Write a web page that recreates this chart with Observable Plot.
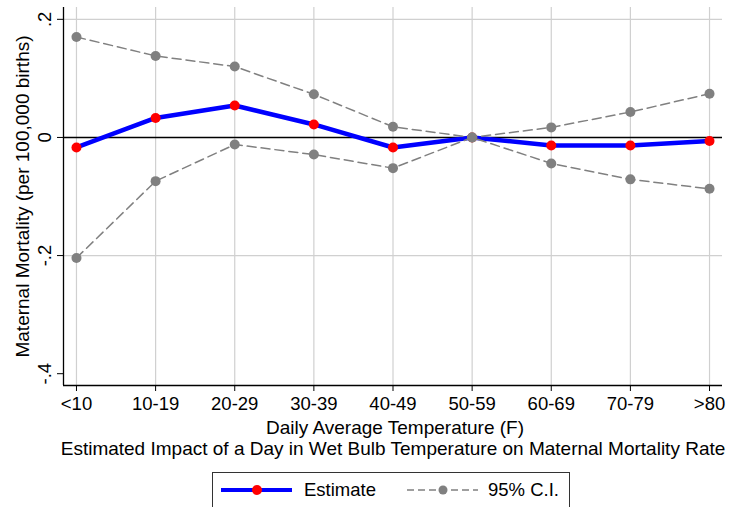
<!DOCTYPE html>
<html>
<head>
<meta charset="utf-8">
<script src="https://cdn.jsdelivr.net/npm/d3@7"></script>
<script src="https://cdn.jsdelivr.net/npm/@observablehq/plot@0.6"></script>
<style>
  body { margin: 0; background: #fff; font-family: "Liberation Sans", Arial, sans-serif; }
  #wrap { position: relative; width: 729px; height: 507px; overflow: hidden; background: #fff; }
  #chart svg { display: block; }
  .txt { position: absolute; font-size: 18.5px; line-height: 20px; color: #000; white-space: nowrap; }
  #caption { left: 393px; top: 439px; transform: translateX(-50%); font-size: 19px; }
  #legend { position: absolute; left: 212px; top: 472px; width: 358px; height: 40px; border: 1px solid #333; box-sizing: border-box; }
  .sw { position: absolute; top: 484px; }
</style>
</head>
<body>
<div id="wrap">
  <div id="chart"></div>
  <div id="caption" class="txt"></div>
  <div id="legend"></div>
  <svg class="sw" id="sw1" style="left:221px" width="72" height="12"></svg>
  <div class="txt" id="lg1" style="left:304px; top:480px"></div>
  <svg class="sw" id="sw2" style="left:407px" width="72" height="12"></svg>
  <div class="txt" id="lg2" style="left:488px; top:480px"></div>
</div>
<script>
// ---- data ----
const categories = ["<10", "10-19", "20-29", "30-39", "40-49", "50-59", "60-69", "70-79", ">80"];
const estimate   = [-0.017, 0.033, 0.054, 0.022, -0.017, 0, -0.0135, -0.0135, -0.006];
const ciUpper    = [0.170, 0.138, 0.120, 0.073, 0.018, 0, 0.017, 0.043, 0.074];
const ciLower    = [-0.204, -0.074, -0.012, -0.029, -0.052, 0, -0.044, -0.071, -0.087];
const yTicks      = [-0.4, -0.2, 0, 0.2];
const yTickLabels = ["-.4", "-.2", "0", ".2"];
const yGridValues = [-0.2, 0.2];
const yTitle = "Maternal Mortality (per 100,000 births)";
const xTitle = "Daily Average Temperature (F)";
const captionText = "Estimated Impact of a Day in Wet Bulb Temperature on Maternal Mortality Rate";
const legendLabels = ["Estimate", "95% C.I."];

// ---- styles ----
const blue = "#0000ff", red = "#ff0000", gray = "#808080", grid = "#d0d0d0";
const idx = categories.map((_, i) => i);
const rows = idx.map(i => ({i, cat: categories[i], est: estimate[i], hi: ciUpper[i], lo: ciLower[i]}));
const pad = 0.164;
const xDomain = [-pad, categories.length - 1 + pad];
const yDomain = [-0.42, 0.22];

const chart = Plot.plot({
  width: 729,
  height: 437,
  marginLeft: 63,
  marginRight: 7,
  marginTop: 7,
  marginBottom: 52,
  style: {fontFamily: "Liberation Sans, Arial, sans-serif", fontSize: "18px", color: "#000", background: "#fff", overflow: "visible"},
  x: {type: "linear", domain: xDomain},
  y: {type: "linear", domain: yDomain},
  marks: [
    Plot.ruleX(idx, {stroke: grid, strokeWidth: 1.2}),
    Plot.ruleY(yGridValues, {stroke: grid, strokeWidth: 1.2}),
    Plot.ruleY([0], {stroke: "#000", strokeWidth: 1.5}),
    Plot.ruleX([xDomain[0]], {stroke: "#000", strokeWidth: 1.3}),
    Plot.ruleY([yDomain[0]], {stroke: "#000", strokeWidth: 1.3}),
    Plot.axisX({ticks: idx, tickFormat: i => categories[i], tickSize: 6, tickPadding: 5, fontSize: 18.5, label: null, stroke: "#000"}),
    Plot.axisY({ticks: yTicks, tickFormat: v => yTickLabels[yTicks.indexOf(v)], tickSize: 6, tickRotate: -90, tickPadding: 7, fontSize: 18.5, label: null, stroke: "#000"}),
    Plot.text([yTitle], {frameAnchor: "left", dx: -41, rotate: -90, lineAnchor: "middle", textAnchor: "middle", fontSize: 19, fill: "#000"}),
    Plot.text([xTitle], {frameAnchor: "bottom", dy: 42, dx: 2, lineAnchor: "middle", textAnchor: "middle", fontSize: 19, fill: "#000"}),
    Plot.line(rows, {x: "i", y: "est", stroke: blue, strokeWidth: 4.5, strokeLinejoin: "round"}),
    Plot.dot(rows, {x: "i", y: "est", r: 5, fill: red}),
    Plot.line(rows, {x: "i", y: "hi", stroke: gray, strokeWidth: 1.5, strokeDasharray: "9,5"}),
    Plot.line(rows, {x: "i", y: "lo", stroke: gray, strokeWidth: 1.5, strokeDasharray: "9,5"}),
    Plot.dot(rows, {x: "i", y: "hi", r: 5, fill: gray}),
    Plot.dot(rows, {x: "i", y: "lo", r: 5, fill: gray})
  ]
});
document.getElementById("chart").appendChild(chart);
document.getElementById("caption").textContent = captionText;
document.getElementById("lg1").textContent = legendLabels[0];
document.getElementById("lg2").textContent = legendLabels[1];

// legend swatches
const s1 = d3.select("#sw1");
s1.append("line").attr("x1", 0).attr("x2", 71).attr("y1", 6).attr("y2", 6).attr("stroke", blue).attr("stroke-width", 4);
s1.append("circle").attr("cx", 36).attr("cy", 6).attr("r", 5).attr("fill", red);
const s2 = d3.select("#sw2");
s2.append("line").attr("x1", 0).attr("x2", 71).attr("y1", 6).attr("y2", 6).attr("stroke", gray).attr("stroke-width", 1.5).attr("stroke-dasharray", "7,4");
s2.append("circle").attr("cx", 36).attr("cy", 6).attr("r", 4.5).attr("fill", gray);
</script>
</body>
</html>
